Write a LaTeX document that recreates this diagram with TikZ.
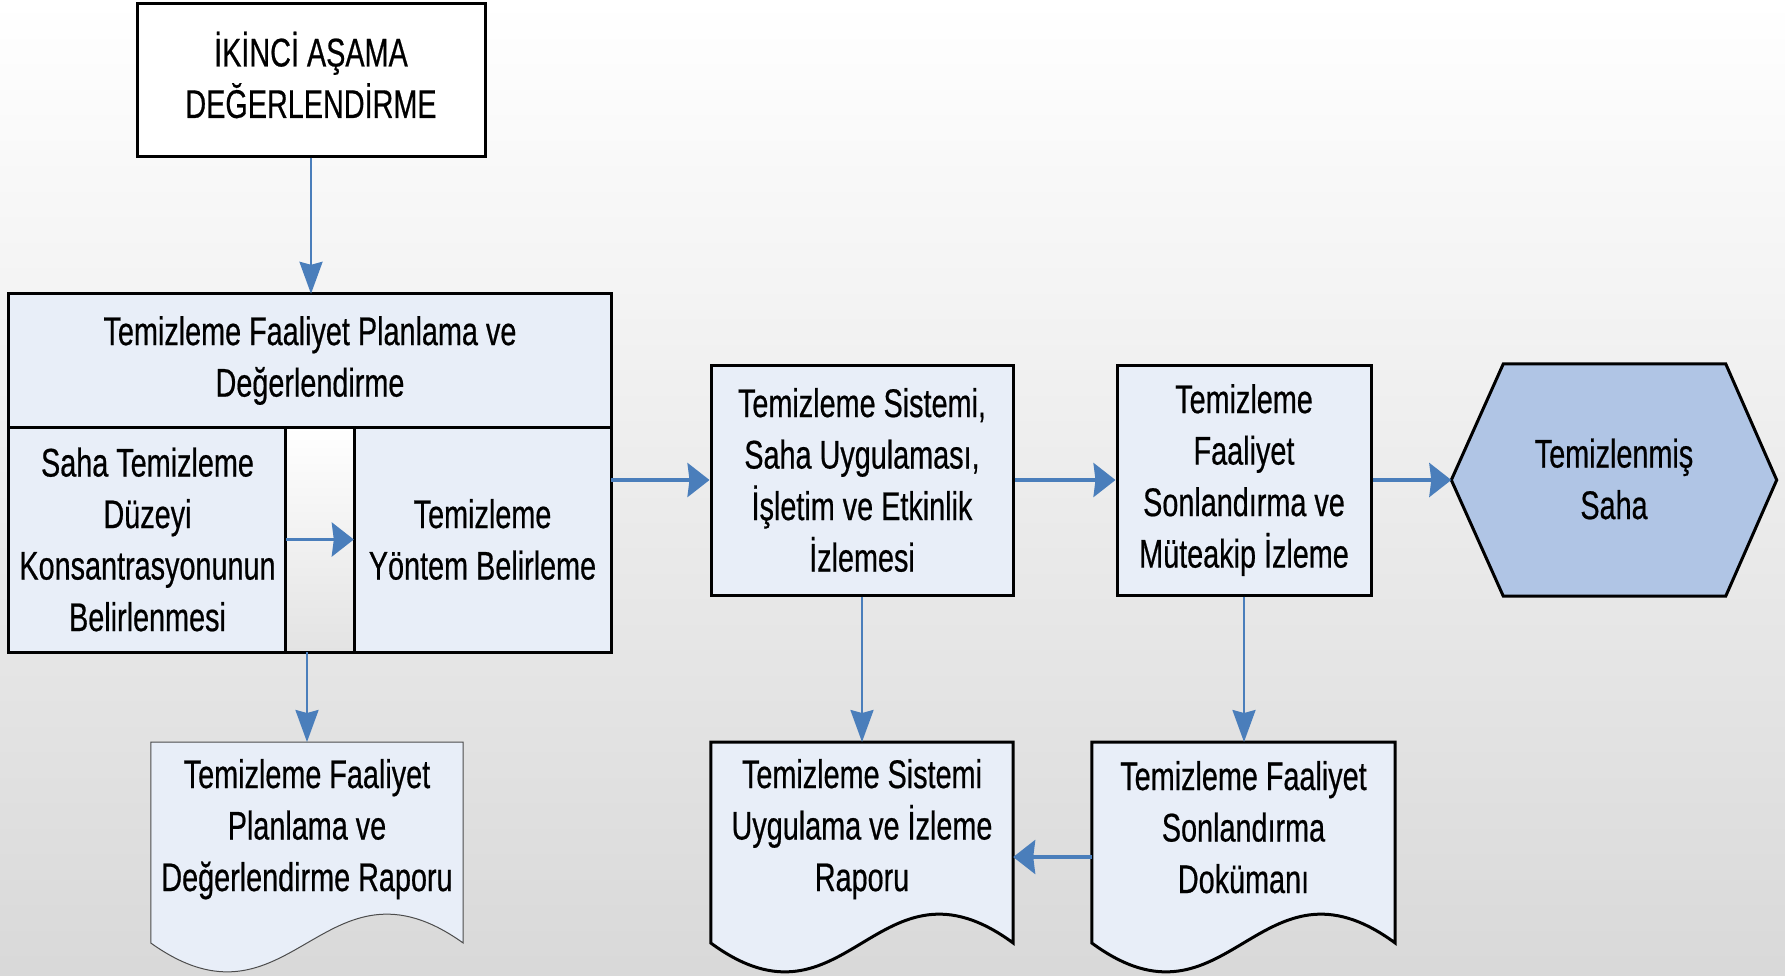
\documentclass[tikz,border=0pt]{standalone}
\usepackage{fontspec}
\setmainfont{Liberation Sans}[FakeStretch=0.72, FakeBold=0.5]
\usetikzlibrary{arrows.meta}
\definecolor{boxfill}{HTML}{E8EEF8}
\definecolor{hexfill}{HTML}{B0C5E5}
\definecolor{arrowblue}{HTML}{4A7EBB}
\begin{document}
\begin{tikzpicture}[x=1pt,y=-1pt,
  every node/.style={font=\fontsize{40}{51.5}\selectfont, align=center, text=black, inner sep=0pt},
  box/.style={draw=black, line width=3pt, fill=boxfill},
  thickline/.style={draw=black, line width=3pt},
  docthin/.style={draw=black!70, line width=1pt, fill=boxfill},
  docthick/.style={draw=black, line width=3pt, fill=boxfill},
  flowh/.style={draw=arrowblue, line width=3.5pt, -{Stealth[length=22pt,width=34pt,inset=2pt]}},
  flowv/.style={draw=arrowblue, line width=2.5pt, -{Stealth[length=32pt,width=23pt,inset=3pt]}},
  ]
\shade[top color=white, bottom color=gray!30] (0,0) rectangle (1785,975);
\useasboundingbox (0,0) rectangle (1785,975);

% top box
\node[draw=black, line width=3pt, fill=white, minimum width=348pt, minimum height=153pt] (top) at (311,79.5) {};
\node (toptext) at (311,75) {İKİNCİ AŞAMA\\DEĞERLENDİRME};

% big composite box
\node[fill=boxfill, minimum width=602pt, minimum height=133pt] (hdr) at (310,360.5) {Temizleme Faaliyet Planlama ve\\Değerlendirme};
\node[fill=boxfill, minimum width=277pt, minimum height=225pt] (left) at (147.5,539.5) {Saha Temizleme\\Düzeyi\\Konsantrasyonunun\\Belirlenmesi};
\shade[top color=white, bottom color=black!11] (286,427) rectangle (354,652);
\node[minimum width=68pt, minimum height=225pt] (strip) at (320,539.5) {};
\node[fill=boxfill, minimum width=257pt, minimum height=225pt] (right) at (482.5,539.5) {Temizleme\\Yöntem Belirleme};
\draw[thickline] (hdr.south west) -- (hdr.south east);
\draw[thickline] (strip.north west) -- (strip.south west);
\draw[thickline] (strip.north east) -- (strip.south east);
\draw[thickline] (hdr.north west) rectangle (right.south east);

% process boxes
\node[box, minimum width=302pt, minimum height=230pt] (box2) at (862,480) {Temizleme Sistemi,\\Saha Uygulaması,\\İşletim ve Etkinlik\\İzlemesi};
\node[box, minimum width=254pt, minimum height=230pt] (box3) at (1244,480) {Temizleme\\Faaliyet\\Sonlandırma ve\\Müteakip İzleme};

% hexagon
\node[minimum width=325pt, minimum height=232pt] (hex) at (1614,480) {};
\draw[draw=black, line width=3pt, fill=hexfill]
  (hex.west) -- ([xshift=52pt]hex.north west) -- ([xshift=-51pt]hex.north east)
  -- (hex.east) -- ([xshift=-51pt]hex.south east) -- ([xshift=52pt]hex.south west) -- cycle;
\node (hextext) at (1614,479) {Temizlenmiş\\Saha};

% documents
\node[minimum width=312pt, minimum height=170pt, anchor=north] (doc1) at (307,742) {};
\draw[docthin] (doc1.north west) -- (doc1.north east) -- ([yshift=-201pt]doc1.north east)
  .. controls +(-140,-100) and +(140,100) .. ([yshift=-201pt]doc1.north west) -- cycle;
\node (doc1text) at ([yshift=-2pt]doc1.center) {Temizleme Faaliyet\\Planlama ve\\Değerlendirme Raporu};

\node[minimum width=302pt, minimum height=170pt, anchor=north] (doc2) at (862,742) {};
\draw[docthick] (doc2.north west) -- (doc2.north east) -- ([yshift=-201pt]doc2.north east)
  .. controls +(-136,-100) and +(136,100) .. ([yshift=-201pt]doc2.north west) -- cycle;
\node (doc2text) at ([yshift=-2pt]doc2.center) {Temizleme Sistemi\\Uygulama ve İzleme\\Raporu};

\node[minimum width=303pt, minimum height=170pt, anchor=north] (doc3) at (1243.5,742) {};
\draw[docthick] (doc3.north west) -- (doc3.north east) -- ([yshift=-201pt]doc3.north east)
  .. controls +(-136,-100) and +(136,100) .. ([yshift=-201pt]doc3.north west) -- cycle;
\node (doc3text) at (doc3.center) {Temizleme Faaliyet\\Sonlandırma\\Dokümanı};

% connectors
\draw[flowv] (top.south) -- (top.south |- hdr.north);
\draw[flowh] (left.east) -- (right.west);
\draw[flowh] (box2.west -| right.east) -- (box2.west);
\draw[flowh] (box2.east) -- (box3.west);
\draw[flowh] (box3.east) -- (hex.west);
\draw[flowv] (doc1.north |- strip.south) -- (doc1.north);
\draw[flowv] (box2.south) -- (doc2.north);
\draw[flowv] (box3.south) -- (box3.south |- doc3.north);
\coordinate (d3l) at ([yshift=-115pt]doc3.north west);
\draw[flowh] (d3l) -- (d3l -| doc2.east);
\end{tikzpicture}
\end{document}
